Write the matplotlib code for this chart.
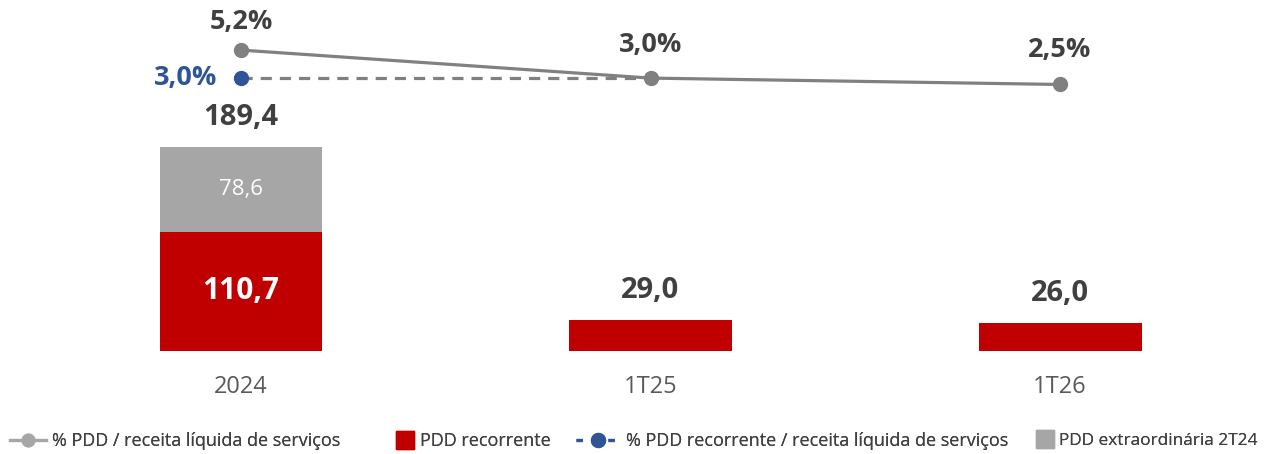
import matplotlib
matplotlib.use("Agg")
import matplotlib.pyplot as plt
import numpy as np

plt.rcParams['font.family'] = ['Open Sans', 'DejaVu Sans']

categorias = ["2024", "1T25", "1T26"]
pdd_recorrente = [110.7, 29.0, 26.0]
pdd_extra = [78.6, 0.0, 0.0]
pdd_total = [189.4, 29.0, 26.0]
pct_pdd = [5.2, 3.0, 2.5]
pct_recorrente = [3.0, 3.0]   # só 2024 e 1T25

fmt = lambda v: f"{v:.1f}".replace(".", ",")

vermelho = "#C00000"
cinza_bar = "#A6A6A6"
cinza_lin = "#808080"
azul = "#2F5597"
texto = "#404040"

fig = plt.figure(figsize=(12.66, 4.54), dpi=100)
ax = fig.add_axes([0, 0, 1, 1])
x = np.arange(len(categorias))
w = 0.398

b1 = ax.bar(x, pdd_recorrente, w, color=vermelho, label="PDD recorrente")
b2 = ax.bar(x, pdd_extra, w, bottom=pdd_recorrente, color=cinza_bar,
            label="PDD extraordinária 2T24")

ax.set_xlim(-0.5885, 2.503)
ax.set_ylim(-95.5, 325.6)
ax.axis("off")

for i in range(len(categorias)):
    topo = pdd_recorrente[i] + pdd_extra[i]
    ax.annotate(fmt(pdd_total[i]), (x[i], topo), xytext=(0, 21), textcoords="offset points",
                ha="center", va="center", fontsize=21, fontweight="bold", color=texto)
    ax.text(x[i], -33, categorias[i], ha="center", va="center", fontsize=17, color="#595959")
    if pdd_extra[i] > 0:
        ax.text(x[i], pdd_recorrente[i] / 2, fmt(pdd_recorrente[i]), ha="center",
                va="center", fontsize=21.5, fontweight="bold", color="white")
        ax.text(x[i], pdd_recorrente[i] + pdd_extra[i] / 2, fmt(pdd_extra[i]),
                ha="center", va="center", fontsize=16, color="white")

ax2 = ax.twinx()
ax2.set_position([0, 0, 1, 1])
ax2.set_ylim(-26.5, 9.13)
ax2.axis("off")

ax2.plot(x[:len(pct_recorrente)], pct_recorrente, color=cinza_lin, lw=2.3,
         ls=(0, (3.5, 2.5)), zorder=2)
ax2.plot(x[0], pct_recorrente[0], "o", color=azul, ms=10, zorder=4)
ax2.plot(x, pct_pdd, color=cinza_lin, lw=2.3, marker="o", ms=10, zorder=3)

offs = [20, 24, 25]
for i, v in enumerate(pct_pdd):
    ax2.annotate(fmt(v) + "%", (x[i], v), xytext=(0, offs[i]), textcoords="offset points",
                 ha="center", va="center", fontsize=19.5, fontweight="bold", color=texto)
ax2.annotate(fmt(pct_recorrente[0]) + "%", (x[0], pct_recorrente[0]), xytext=(-17, 0),
             textcoords="offset points", ha="right", va="center", fontsize=19.5,
             fontweight="bold", color=azul)

# legenda: quatro entradas posicionadas uma a uma
itens = [
    (plt.Line2D([], [], color="#A6A6A6", lw=2.3, marker="o", ms=9),
     "% PDD / receita líquida de serviços", 10, 2.0, 13),
    (plt.Line2D([], [], ls="none", marker="s", ms=13.5, color=vermelho),
     "PDD recorrente", 396, 1.0, 13),
    (plt.Line2D([], [], color=azul, lw=2.3, ls=(0, (2, 3)), marker="o", ms=10),
     "% PDD recorrente / receita líquida de serviços", 576, 2.4, 13),
    (plt.Line2D([], [], ls="none", marker="s", ms=13.5, color=cinza_bar),
     "PDD extraordinária 2T24", 1036, 1.0, 12.4),
]
for h, lab, px, hl, fs in itens:
    lg = fig.legend([h], [lab], loc="center left", bbox_to_anchor=(px / 1266, 13 / 454),
                    frameon=False, fontsize=fs, handlelength=hl, handletextpad=0.35,
                    borderpad=0, borderaxespad=0, labelcolor="#404040")
    fig.add_artist(lg)

fig.savefig("out.png", dpi=100)
